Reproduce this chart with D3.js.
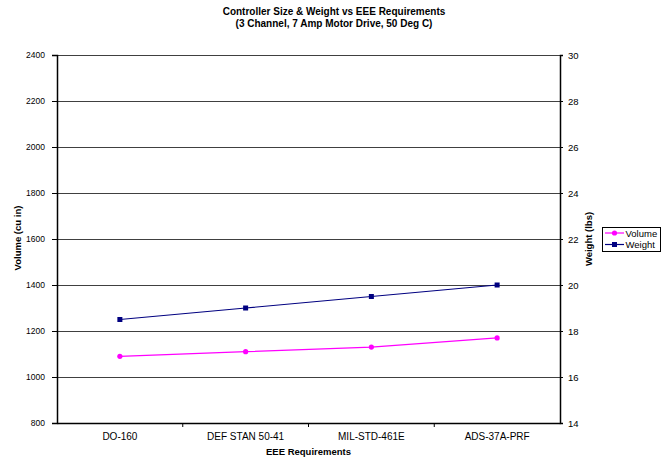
<!DOCTYPE html>
<html><head><meta charset="utf-8">
<script src="https://cdn.jsdelivr.net/npm/d3@7/dist/d3.min.js"></script>
<style>body{margin:0;background:#fff}svg{display:block;font-family:"Liberation Sans",Arial,sans-serif}</style>
</head><body><svg id="c" width="672" height="459"></svg>
<script>
const categories = ["DO-160", "DEF STAN 50-41", "MIL-STD-461E", "ADS-37A-PRF"];
const volume = [1090, 1110, 1130, 1170];
const weight = [18.5, 19, 19.5, 20];
const volumeTicks = [800, 1000, 1200, 1400, 1600, 1800, 2000, 2200, 2400];
const weightTicks = [14, 16, 18, 20, 22, 24, 26, 28, 30];

const svg = d3.select("#c");
const L = 57, R = 560, T = 55, B = 423;
const x = d3.scaleBand().domain(categories).range([L, R]);
const yL = d3.scaleLinear().domain([800, 2400]).range([B, T]);
const yR = d3.scaleLinear().domain([14, 30]).range([B, T]);

// gridlines
svg.append("g").selectAll("line").data(volumeTicks).join("line")
  .attr("x1", L).attr("x2", R).attr("y1", d => yL(d) + 0.5).attr("y2", d => yL(d) + 0.5)
  .attr("stroke", "#404040").attr("stroke-width", 1);

const ff = '"Liberation Sans",Arial,sans-serif';
// left axis
const gl = svg.append("g").attr("transform", `translate(${L},0)`)
  .call(d3.axisLeft(yL).tickValues(volumeTicks).tickSize(5).tickPadding(7).tickFormat(d3.format("d")));
// right axis
const gr = svg.append("g").attr("transform", `translate(${R},0)`)
  .call(d3.axisRight(yR).tickValues(weightTicks).tickSize(3).tickPadding(5).tickFormat(d3.format("d")));
// bottom axis
const gb = svg.append("g").attr("transform", `translate(0,${B})`)
  .call(d3.axisBottom(x).tickSize(0).tickPadding(10));
[gl, gr, gb].forEach(g => {
  g.select(".domain").attr("stroke", "#000").attr("stroke-width", 1.5);
  g.selectAll(".tick line").attr("stroke", "#000");
  g.selectAll("text").attr("fill", "#000").style("font-family", ff);
});
gl.selectAll("text").style("font-size", "8.5px");
gr.selectAll("text").style("font-size", "9.5px");
gb.selectAll("text").style("font-size", "10px");
// category boundary ticks
svg.append("g").selectAll("line").data(categories.slice(1)).join("line")
  .attr("x1", d => x(d)).attr("x2", d => x(d)).attr("y1", B).attr("y2", B + 4)
  .attr("stroke", "#000");

// lines
const cx = d => x(d) + x.bandwidth() / 2;
const lineV = d3.line().x((d, i) => cx(categories[i])).y(d => yL(d));
const lineW = d3.line().x((d, i) => cx(categories[i])).y(d => yR(d));
svg.append("path").attr("d", lineV(volume)).attr("fill", "none").attr("stroke", "#FF00FF").attr("stroke-width", 1.2);
svg.append("path").attr("d", lineW(weight)).attr("fill", "none").attr("stroke", "#000080").attr("stroke-width", 1.2);
svg.append("g").selectAll("circle").data(volume).join("circle")
  .attr("cx", (d, i) => cx(categories[i])).attr("cy", d => yL(d)).attr("r", 2.6).attr("fill", "#FF00FF");
svg.append("g").selectAll("rect").data(weight).join("rect")
  .attr("x", (d, i) => cx(categories[i]) - 2.5).attr("y", d => yR(d) - 2.5)
  .attr("width", 5).attr("height", 5).attr("fill", "#000080");

// titles
const title = svg.append("text").attr("text-anchor", "middle").attr("font-weight", "bold").style("font-size", "10px");
title.append("tspan").attr("x", 334).attr("y", 15).text("Controller Size & Weight vs EEE Requirements");
title.append("tspan").attr("x", 334).attr("y", 27).text("(3 Channel, 7 Amp Motor Drive, 50 Deg C)");

svg.append("text").attr("x", (L + R) / 2).attr("y", 455).attr("text-anchor", "middle")
  .attr("font-weight", "bold").style("font-size", "9.5px").text("EEE Requirements");
svg.append("text").attr("transform", "translate(20.5,238) rotate(-90)").attr("text-anchor", "middle")
  .attr("font-weight", "bold").style("font-size", "9.5px").text("Volume (cu in)");
svg.append("text").attr("transform", "translate(591.5,239) rotate(-90)").attr("text-anchor", "middle")
  .attr("font-weight", "bold").style("font-size", "9.5px").text("Weight (lbs)");

// legend
const lg = svg.append("g");
lg.append("rect").attr("x", 602.5).attr("y", 227.5).attr("width", 58).attr("height", 24)
  .attr("fill", "#fff").attr("stroke", "#000").attr("stroke-width", 1);
const items = [{name: "Volume", color: "#FF00FF", shape: "circle"}, {name: "Weight", color: "#000080", shape: "square"}];
items.forEach((it, i) => {
  const yy = 233 + i * 11.5;
  lg.append("line").attr("x1", 605).attr("x2", 624).attr("y1", yy).attr("y2", yy).attr("stroke", it.color).attr("stroke-width", 1.2);
  if (it.shape === "circle") lg.append("circle").attr("cx", 614.5).attr("cy", yy).attr("r", 2.6).attr("fill", it.color);
  else lg.append("rect").attr("x", 612).attr("y", yy - 2.5).attr("width", 5).attr("height", 5).attr("fill", it.color);
  lg.append("text").attr("x", 625.5).attr("y", yy + 3.5).style("font-size", "9.5px").text(it.name);
});
</script></body></html>
